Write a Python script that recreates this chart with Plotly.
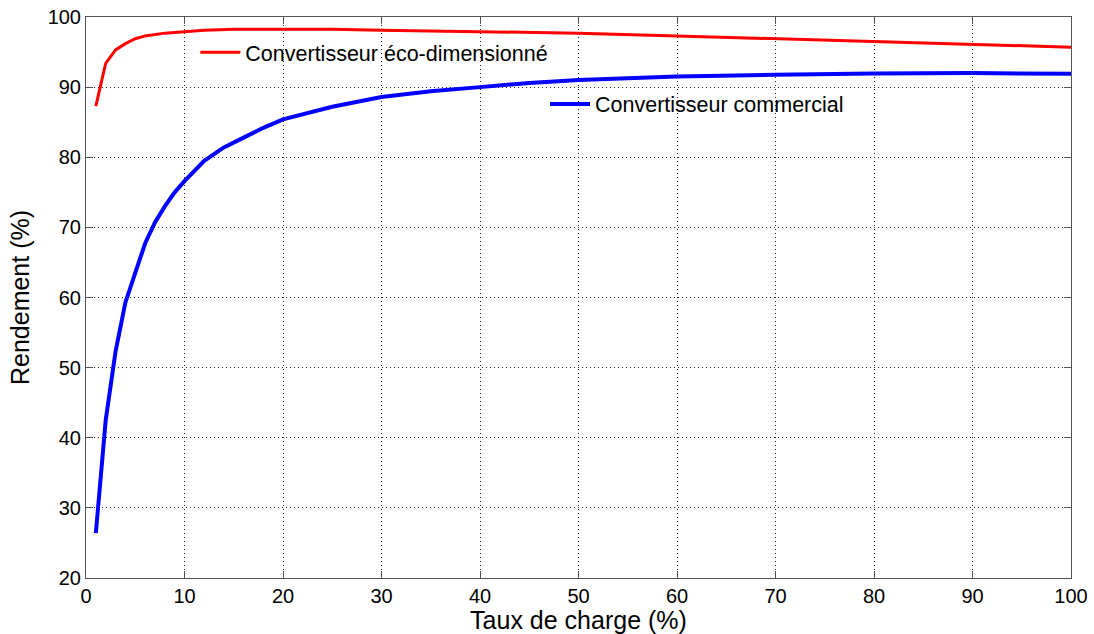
import plotly.graph_objects as go

# Data
charge_eco = [1, 2, 3, 4, 5, 6, 8, 10, 12, 15, 20, 25, 30, 40, 50, 60, 70, 80, 90, 100]
rend_eco = [87.3, 93.4, 95.3, 96.2, 96.9, 97.3, 97.7, 97.95, 98.1, 98.25, 98.3, 98.25,
            98.1, 97.9, 97.7, 97.3, 96.9, 96.5, 96.1, 95.7]

charge_com = [1, 2, 3, 4, 5, 6, 7, 8, 9, 10, 12, 14, 16, 18, 20, 25, 30, 35, 40, 45, 50,
              60, 70, 80, 90, 100]
rend_com = [26.4, 42.5, 52.3, 59.3, 63.5, 67.7, 70.7, 73.0, 75.0, 76.6, 79.5, 81.4, 82.8,
            84.2, 85.4, 87.2, 88.6, 89.4, 90.0, 90.6, 91.0, 91.5, 91.75, 91.95, 92.0, 91.9]

name_eco = "Convertisseur éco-dimensionné"
name_com = "Convertisseur commercial"
x_title = "Taux de charge (%)"
y_title = "Rendement (%)"
x_ticks = list(range(0, 101, 10))
y_ticks = list(range(20, 101, 10))

FONT = "Liberation Sans, Arial, sans-serif"

fig = go.Figure()
fig.add_trace(go.Scatter(x=charge_eco, y=rend_eco, mode="lines", name=name_eco,
                         line=dict(color="#ff0000", width=3), legend="legend"))
fig.add_trace(go.Scatter(x=charge_com, y=rend_com, mode="lines", name=name_com,
                         line=dict(color="#0000ff", width=4), legend="legend2"))

axis_common = dict(
    showline=True, linecolor="#555555", linewidth=1, mirror="ticks",
    ticks="inside", ticklen=7, tickcolor="#555555", tickwidth=1,
    showgrid=True, gridcolor="#222222", griddash="1px,3px", gridwidth=1,
    zeroline=False, automargin=False, ticklabeloverflow="allow",
    tickfont=dict(family=FONT, size=20, color="#000000"),
)

fig.update_xaxes(range=[0, 100], tickvals=x_ticks, **axis_common,
                 title=dict(text=x_title, font=dict(family=FONT, size=25, color="#000000"),
                            standoff=0))
fig.update_yaxes(range=[20, 100], tickvals=y_ticks, **axis_common,
                 title=dict(text=y_title, font=dict(family=FONT, size=25, color="#000000"),
                            standoff=10))

legend_common = dict(bgcolor="rgba(0,0,0,0)", borderwidth=0,
                     font=dict(family=FONT, size=21.5, color="#000000"),
                     xanchor="left", yanchor="middle", itemwidth=40)

fig.update_layout(
    width=1094, height=634,
    margin=dict(l=86, r=23, t=17, b=56),
    paper_bgcolor="white", plot_bgcolor="white",
    showlegend=True,
    legend=dict(x=0.111, y=0.937, **legend_common),
    legend2=dict(x=0.466, y=0.845, **legend_common),
)

# remove the default 8px page margin so the figure fills the window exactly
fig.write_html("out.html", config={"displayModeBar": False},
               post_script="document.body.style.margin='0';")
